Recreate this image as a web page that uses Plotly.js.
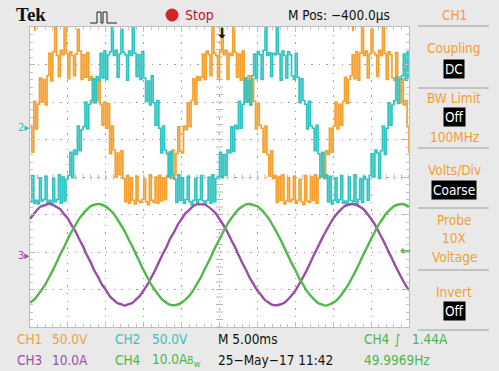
<!DOCTYPE html>
<html><head><meta charset="utf-8">
<script src="https://cdn.plot.ly/plotly-3.0.1.min.js"></script>
<style>html,body{margin:0;padding:0;background:#e9e9e9;overflow:hidden}#chart{width:499px;height:371px}</style>
</head><body><div id="chart"></div>
<script>
const startMs = -25;
const voltStepMs = 0.25;   // CH1 / CH2 sample spacing
const ampStepMs = 0.5;     // CH3 / CH4 sample spacing
const ch1Volts = [1,-33,35,-2,31,66,34,64,30,69, 99,62,101,133,96,68,103,97,136,99,
 65,101,96,69,98,131,102,64,97,67, 100,63,68,33,65,36,62,31,3,34,
 -1,32,-35,2,-30,-66,-34,-63,-31,-68, -99,-64,-101,-67,-97,-102,-65,-98,-100,-96,
 -69,-99,-103,-63,-97,-100,-66,-101,-64,-98, -67,-96,-65,-33,-68,-30,-63,-35,1,-32,
 -34,2,-3,33,1,36,65,31,68,63, 67,98,64,102,97,69,134,99,96,66,
 101,132,97,103,64,99,96,135,100,67, 98,63,102,66,34,69,30,65,35,-2,
 32,3,-1,-33,2,-36,-65,-31,-68,-64, -100,-66,-97,-63,-102,-98,-67,-99,-96,-65,
 -101,-97,-69,-99,-103,-64,-98,-100,-66,-97, -63,-101,-68,-65,-34,-67,-31,-36,-1,-33,
 2,34,-2,31,3,35,67,32,64,69, 97,65,101,63,99,135,96,102,66,98,
 131,100,97,68,103,96,134,99,64,101, 97,66,63,100,67,33,65,30,36,1, -34];
const ch2Volts = [-99,-64,-101,-97,-102,-67,-98,-96,-65,-100, -97,-103,-68,-99,-96,-63,-101,-66,-98,-69,
 -64,-33,-67,-30,-36,2,-31,-3,1,34, -2,31,36,65,33,68,63,99,66,102,
 64,97,101,134,96,103,67,98,131,100, 97,63,102,96,135,99,68,97,64,101,
 66,35,62,30,69,33,3,36,-1,-34, 2,-30,-35,-66,-32,-64,-69,-100,-63,-97,
 -67,-101,-96,-65,-99,-103,-97,-68,-100,-96, -64,-98,-102,-97,-66,-101,-63,-99,-68,-65,
 -33,-67,-36,-64,-30,-34,1,-32,3,-2, 35,-1,31,66,34,63,30,69,98,65,
 101,97,64,103,133,96,100,68,99,97, 136,98,63,102,96,66,101,97,69,64,
 99,67,33,65,36,31,-2,35,2,-1, -31,3,-35,-66,-33,-68,-63,-99,-65,-102,
 -97,-67,-100,-96,-64,-101,-98,-103,-66,-97, -99,-63,-102,-96,-68,-100,-65,-69,-97,-64,
 -35,-66,-30,-34,-68,-31,2,-36,-1,33, 3,30,36,67,32,64,69,98,63,101, 66];
const ch3Amps = [9.6,10.8,12.1,12.9,13.2,13.6,13.3,12.7,12.1,10.8,9.6,7.8,6.2,4.1,2.2,-0.1,-2.0,-4.3,-6.0,-8.0,-9.4,-11.0,-12.0,-12.9,-13.2,-13.6,-13.2,-12.9,-11.9,-11.0,-9.5,-8.0,-6.1,-4.2,-2.0,0.1,2.0,4.3,6.0,8.0,
 9.5,11.0,11.9,12.9,13.4,13.4,13.4,12.8,12.0,11.0,9.5,7.9,6.2,4.1,2.2,0.0,-2.2,-4.1,-6.2,-7.9,-9.6,-10.8,-12.1,-12.8,-13.4,-13.5,-13.3,-12.9,-12.0,-10.9,-9.6,-7.9,-6.1,-4.2,-2.1,0.1,2.1,4.2,6.1,7.9,
 9.6,10.9,12.0,12.9,13.3,13.5,13.3,12.8,12.1,10.9,9.5,8.0,6.1,4.2,2.1,0.0,-2.1,-4.2,-6.1,-8.0,-9.5];
const ch4Amps = [-12.8,-12.1,-10.9,-9.5,-8.0,-6.1,-4.2,-2.1,0.1,2.0,4.2,6.2,7.9,9.6,10.9,12.0,12.9,13.3,13.5,13.3,12.8,12.0,11.0,9.5,7.9,6.2,4.1,2.2,0.0,-2.1,-4.2,-6.1,-8.0,-9.5,-10.9,-12.1,-12.8,-13.4,-13.5,-13.3,
 -12.8,-12.0,-11.0,-9.6,-7.9,-6.2,-4.1,-2.1,0.0,2.2,4.1,6.1,8.0,9.5,10.9,12.1,12.8,13.4,13.5,13.2,12.9,12.0,10.9,9.6,7.9,6.1,4.2,2.1,-0.1,-2.2,-4.1,-6.2,-7.9,-9.6,-10.9,-12.0,-12.9,-13.3,-13.6,-13.3,
 -12.8,-12.1,-10.9,-9.5,-8.0,-6.1,-4.2,-2.1,0.1,2.1,4.2,6.1,8.0,9.5,11.0,12.0,12.9,13.3,13.5,13.3,12.8];

// channel settings
const ch1Scale = 50, ch2Scale = 50, ch3Scale = 10, ch4Scale = 10;   // units per division
const ch1Ground = 1.32, ch2Ground = 1.32, ch3Ground = -2.07, ch4Ground = -2.07; // divisions from centre

// texts
const bottomRow1 = [["CH1",15,"#f0a33c"],["50.0V",50,"#f0a33c"],["CH2",113,"#36c2c0"],["50.0V",150,"#36c2c0"],["M 5.00ms",216,"#111"],["CH4",362,"#4cb748"],["∫",392,"#4cb748"],["1.44A",410,"#4cb748"]];
const bottomRow2 = [["CH3",15,"#9b4fa8"],["10.0A",50,"#9b4fa8"],["CH4",113,"#4cb748"],["10.0A<span style='font-size:10px'>B</span><sub>w</sub>",150,"#4cb748"],["25−May−17 11:42",216,"#111"],["49.9969Hz",362,"#4cb748"]];
const panelTexts = [["CH1",15],["Coupling",48],["BW Limit",98],["100MHz",137],["Volts/Div",170],["Probe",220],["10X",238],["Voltage",257],["Invert",292]];
const panelBoxes = [["DC",69],["Off",117],["Coarse",190],["Off",311]];
const panelSeparators = [26,88,148,208,270,330];

// ---- helpers: pixel -> paper ----
const L = 30, R = 409, T = 27, B = 327;
const px = x => (x - L) / (R - L);
const py = y => (B - y) / (B - T);
const voltTime = ch1Volts.map((_, i) => startMs + i * voltStepMs);
const ampTime = ch3Amps.map((_, i) => startMs + i * ampStepMs);

const FONT = "'Liberation Sans Narrow','DejaVu Sans Condensed','Arial Narrow',sans-serif";
const ORANGE = "#f5a02e", CYAN = "#2ec4c2", PURPLE = "#9a4ea6", GREEN = "#52b84a";

const traces = [
  {x: voltTime, y: ch1Volts.map(v => v / ch1Scale + ch1Ground), mode: "lines", line: {color: ORANGE, width: 1.7, shape: "hv"}, hoverinfo: "skip"},
  {x: voltTime, y: ch2Volts.map(v => v / ch2Scale + ch2Ground), mode: "lines", line: {color: CYAN, width: 1.7, shape: "hv"}, hoverinfo: "skip"},
  {x: ampTime, y: ch3Amps.map(v => v / ch3Scale + ch3Ground), mode: "lines", line: {color: PURPLE, width: 2.4, shape: "spline", smoothing: 0.6}, hoverinfo: "skip"},
  {x: ampTime, y: ch4Amps.map(v => v / ch4Scale + ch4Ground), mode: "lines", line: {color: GREEN, width: 2.4, shape: "spline", smoothing: 0.6}, hoverinfo: "skip"}
];

const shapes = [];
const annotations = [];
// centre crosshair ticks
for (let i = -25; i <= 25; i++) {
  shapes.push({type: "line", xref: "x", yref: "y", x0: i, x1: i, y0: -0.07, y1: 0.07, line: {color: "#b8b8b8", width: 1}, layer: "below"});
}
for (let j = -20; j <= 20; j++) {
  shapes.push({type: "line", xref: "x", yref: "y", x0: -0.45, x1: 0.45, y0: j * 0.2, y1: j * 0.2, line: {color: "#b8b8b8", width: 1}, layer: "below"});
}
panelSeparators.forEach(y => shapes.push({type: "line", xref: "paper", yref: "paper", x0: px(418), x1: px(489), y0: py(y), y1: py(y), line: {color: "#b5b5b5", width: 1.5}}));
shapes.push({type: "circle", xref: "paper", yref: "paper", x0: px(165.5), x1: px(178.5), y0: py(8.5), y1: py(21.5), fillcolor: "#d2232a", line: {width: 0}});
const icon = [[90,23],[97,23],[97,12],[101,12],[101,23],[103,23],[103,12],[107,12],[107,23],[117,23]];
shapes.push({type: "path", xref: "paper", yref: "paper", path: icon.map((p, i) => (i ? "L" : "M") + px(p[0]) + "," + py(p[1])).join(" "), line: {color: "#222", width: 1}});
[35, 353].forEach(x => shapes.push({type: "rect", xref: "paper", yref: "paper", x0: px(x - 1), x1: px(x + 1), y0: py(31), y1: py(26), fillcolor: ORANGE, line: {width: 0}}));

const ann = (text, x, y, color, size, opts) => Object.assign({text, x: px(x), y: py(y), xref: "paper", yref: "paper", showarrow: false, xanchor: "left", yanchor: "middle", font: {family: FONT, size, color}}, opts || {});
annotations.push(ann("Tek", 14, 15, "#111", 19, {font: {family: "'Liberation Serif','DejaVu Serif',serif", size: 19, color: "#111", weight: 700}}));
annotations.push(ann("Stop", 183, 15, "#c8102e", 14));
annotations.push(ann("M Pos: −400.0µs", 286, 15, "#111", 13.5));
bottomRow1.forEach(t => annotations.push(ann(t[0], t[1], 339, t[2], 13.5)));
bottomRow2.forEach(t => annotations.push(ann(t[0], t[1], 360, t[2], 13.5)));
panelTexts.forEach(t => annotations.push(ann(t[0], 454, t[1], ORANGE, 13.5, {xanchor: "center"})));
panelBoxes.forEach(t => annotations.push(ann(t[0], 454, t[1], "#fff", 13.5, {xanchor: "center", bgcolor: "#000", borderpad: 1})));
annotations.push(ann("2▸", 16, 127, CYAN, 11));
annotations.push(ann("3▸", 16, 255, PURPLE, 11));
annotations.push(ann("←", 398, 250, GREEN, 13, {font: {family: "DejaVu Sans", size: 13, color: GREEN, weight: 700}}));
annotations.push(ann("↓", 222, 33, "#000", 14, {xanchor: "center", font: {family: "DejaVu Sans", size: 14, color: "#000", weight: 700}}));

const gridAxis = {
  showgrid: true, gridcolor: "#9c9c9c", gridwidth: 1, griddash: "1.4px,6.2px",
  zeroline: false, showticklabels: false, showline: true, linecolor: "#bcbcbc", linewidth: 1, mirror: "allticks",
  ticks: "inside", ticklen: 5, tickcolor: "#bcbcbc", fixedrange: true
};
const layout = {
  width: 499, height: 371,
  margin: {l: L, r: 499 - R, t: T, b: 371 - B, pad: 0},
  paper_bgcolor: "#e9e9e9", plot_bgcolor: "#ffffff",
  showlegend: false,
  xaxis: Object.assign({}, gridAxis, {range: [-25, 25], dtick: 5, tick0: 0, minor: {dtick: 1, ticks: "inside", ticklen: 3, tickcolor: "#c4c4c4", showgrid: false}}),
  yaxis: Object.assign({}, gridAxis, {range: [-4, 4], dtick: 1, tick0: 0, minor: {dtick: 0.2, ticks: "inside", ticklen: 3, tickcolor: "#c4c4c4", showgrid: false}}),
  shapes, annotations
};
Plotly.newPlot("chart", traces, layout, {staticPlot: true, displayModeBar: false});
</script></body></html>
